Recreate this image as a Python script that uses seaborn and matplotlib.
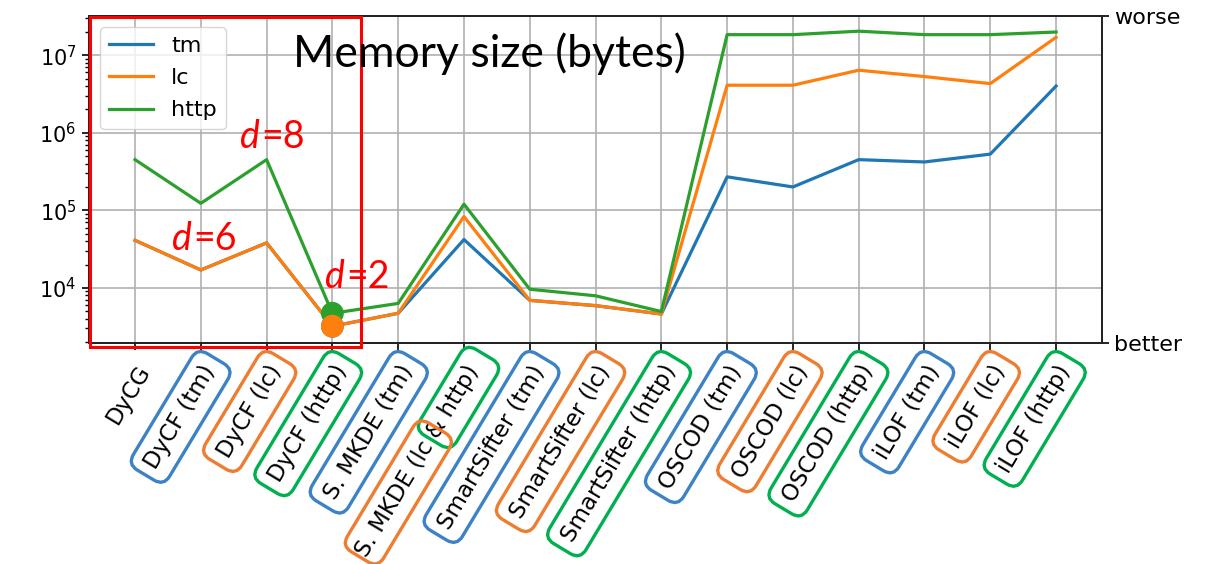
import numpy as np
import pandas as pd
import matplotlib
matplotlib.use("Agg")
import matplotlib.pyplot as plt
import seaborn as sns
from matplotlib.offsetbox import TextArea, HPacker, AnnotationBbox

# methods on the x axis
methods = ["DyCG", "DyCF (tm)", "DyCF (lc)", "DyCF (http)", "S. MKDE (tm)",
           "S. MKDE (lc & http)", "SmartSifter (tm)", "SmartSifter (lc)",
           "SmartSifter (http)", "OSCOD (tm)", "OSCOD (lc)", "OSCOD (http)",
           "iLOF (tm)", "iLOF (lc)", "iLOF (http)"]

# memory size in bytes
tm = [4.1e4, 1.7e4, 3.8e4, 3.2e3, 4.7e3, 4.2e4, 6.9e3, 5.9e3, 4.6e3,
      2.7e5, 2.0e5, 4.5e5, 4.2e5, 5.3e5, 4.0e6]
lc = [4.1e4, 1.7e4, 3.8e4, 3.2e3, 4.7e3, 8.3e4, 6.9e3, 5.9e3, 4.6e3,
      4.1e6, 4.1e6, 6.4e6, 5.3e6, 4.3e6, 1.7e7]
http = [4.5e5, 1.23e5, 4.5e5, 4.7e3, 6.3e3, 1.2e5, 9.6e3, 7.9e3, 4.95e3,
        1.84e7, 1.84e7, 2.04e7, 1.84e7, 1.84e7, 1.99e7]

datasets = ["tm", "lc", "http"]
# which dataset each tick label belongs to (for the coloured boxes)
label_owner = [None, "tm", "lc", "http", "tm", "lc+http", "tm", "lc", "http",
               "tm", "lc", "http", "tm", "lc", "http"]
highlight = 3  # DyCF (http), the d=2 point

line_colors = {"tm": "#1f77b4", "lc": "#ff7f0e", "http": "#2ca02c"}
box_colors = {"tm": "#3C82C4", "lc": "#ED7D31", "http": "#00B050"}

n = len(methods)
df = pd.DataFrame({
    "idx": list(range(n)) * 3,
    "value": tm + lc + http,
    "dataset": ["tm"] * n + ["lc"] * n + ["http"] * n,
})

fig = plt.figure(figsize=(12.09, 5.64), dpi=100)
ax = fig.add_axes([0.0736, 0.392, 0.838, 0.5796])
ax.set_yscale("log")

sns.lineplot(data=df, x="idx", y="value", hue="dataset", hue_order=datasets,
             palette=line_colors, linewidth=2.3, ax=ax)

# big dots on the d=2 configuration
dots = df[df["idx"] == highlight].set_index("dataset").loc[["tm", "http", "lc"]].reset_index()
sns.scatterplot(data=dots, x="idx", y="value", hue="dataset", palette=line_colors,
                s=270, edgecolor="none", legend=False, zorder=4, ax=ax)

ylo, yhi = 1950, 3.2e7
ax.set_ylim(ylo, yhi)
ax.set_xlim(-0.7, n - 0.3)
ax.set_xlabel("")
ax.set_ylabel("")
ax.grid(True, which="major", color="#b0b0b0", linewidth=1.2)
for s in ax.spines.values():
    s.set_linewidth(1.3)
    s.set_color("#222222")
ax.tick_params(axis="y", which="major", labelsize=15, length=5, width=1.2, pad=4)
ax.tick_params(axis="x", which="major", labelsize=16.5, length=5, width=1.2, pad=8)
ax.tick_params(axis="y", which="minor", length=3, width=1)

ax.set_xticks(range(n))
ax.set_xticklabels(methods, rotation=59, ha="right", rotation_mode="anchor")
box_style = "round,pad=0.42,rounding_size=0.5"
for lab, owner in zip(ax.get_xticklabels(), label_owner):
    if owner in box_colors:
        lab.set_bbox(dict(boxstyle=box_style, fc="none", ec=box_colors[owner], lw=2.4))

# split box for "S. MKDE (lc & http)"
fig.canvas.draw()
r = fig.canvas.get_renderer()
tmp = ax.text(0, 0, "& http)", fontsize=16.5)
w_pt = tmp.get_window_extent(r).width * 72 / fig.dpi
tmp.remove()
ang = np.deg2rad(59)
base = -13
ax.annotate("& http)", xy=(5, 0), xycoords=ax.get_xaxis_transform(),
            xytext=(4, base + 3), textcoords="offset points", fontsize=16.5,
            rotation=59, ha="right", va="top", rotation_mode="anchor", color="none",
            bbox=dict(boxstyle=box_style, fc="none", ec=box_colors["http"], lw=2.4),
            annotation_clip=False)
ax.annotate("S. MKDE (lc", xy=(5, 0), xycoords=ax.get_xaxis_transform(),
            xytext=(-w_pt * np.cos(ang), base - w_pt * np.sin(ang)),
            textcoords="offset points", fontsize=16.5,
            rotation=59, ha="right", va="top", rotation_mode="anchor", color="none",
            bbox=dict(boxstyle=box_style, fc="none", ec=box_colors["lc"], lw=2.4),
            annotation_clip=False)

sns.move_legend(ax, "upper left", title=None, fontsize=16, labelspacing=0.55)

# right-hand axis: better / worse
ax2 = ax.twinx()
ax2.set_yscale("log")
ax2.set_ylim(ylo, yhi)
ax2.set_yticks([ylo, yhi])
ax2.set_yticklabels(["better", "worse"])
ax2.minorticks_off()
ax2.tick_params(axis="y", labelsize=16, length=5, width=1.2)
for s in ax2.spines.values():
    s.set_linewidth(1.3)
    s.set_color("#222222")

# overlay annotations
fig.text(293 / 1209, 1 - 67 / 564, "Memory size (bytes)", fontsize=32,
         family="Lato", va="baseline", color="black")


def red_label(val, x_px, y_px):
    parts = HPacker(children=[
        TextArea("d", textprops=dict(color="red", fontsize=27, family="Lato", style="italic")),
        TextArea("=" + val, textprops=dict(color="red", fontsize=27, family="Lato")),
    ], sep=1, align="baseline")
    ab = AnnotationBbox(parts, (x_px / 1209, 1 - y_px / 564), xycoords="figure fraction",
                        frameon=False, box_alignment=(0, 0), pad=0)
    fig.add_artist(ab)


red_label("8", 240, 155)
red_label("6", 172, 257)
red_label("2", 325, 295)

fig.add_artist(plt.Rectangle((90 / 1209, 1 - 347 / 564), 271 / 1209, 330 / 564,
                             transform=fig.transFigure, fill=False, ec="red", lw=2.2))

fig.savefig("out.png", dpi=100)
